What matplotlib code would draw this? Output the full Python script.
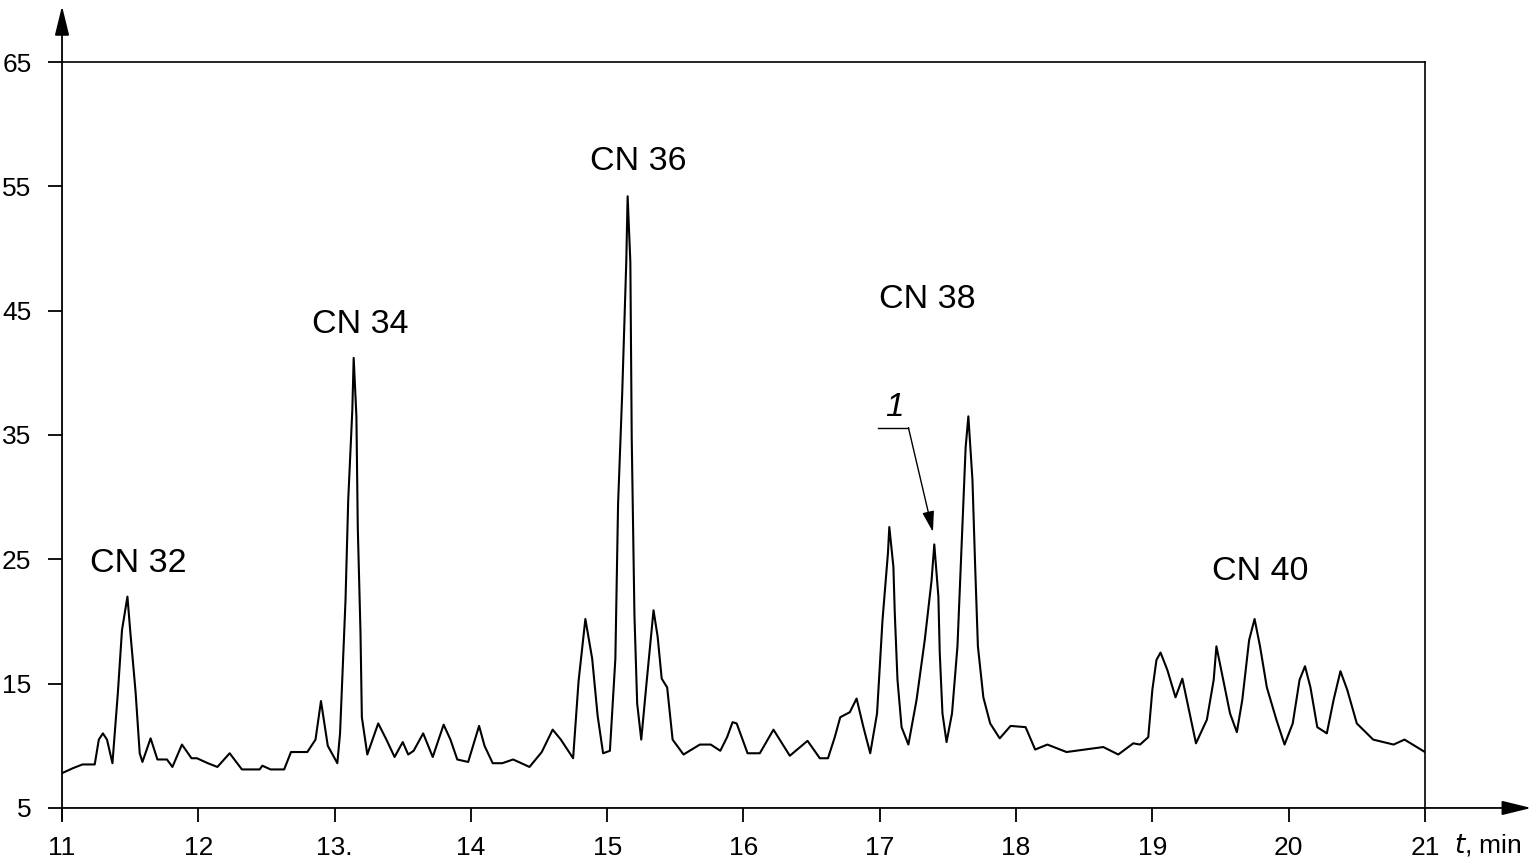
import matplotlib.pyplot as plt

# Chromatogram trace (time in min, detector signal)
time = [11.00, 11.08, 11.15, 11.24, 11.27, 11.30, 11.33, 11.37, 11.41, 11.44,
        11.48, 11.50, 11.54, 11.57, 11.59, 11.65, 11.70, 11.77, 11.81, 11.88,
        11.95, 11.99, 12.07, 12.14, 12.23, 12.32, 12.45, 12.47, 12.53, 12.63,
        12.68, 12.80, 12.86, 12.90, 12.95, 13.02, 13.04, 13.08, 13.10, 13.13,
        13.14, 13.16, 13.17, 13.19, 13.20, 13.24, 13.32, 13.38, 13.44, 13.50,
        13.54, 13.58, 13.65, 13.72, 13.80, 13.85, 13.90, 13.98, 14.06, 14.10,
        14.16, 14.23, 14.31, 14.43, 14.52, 14.60, 14.66, 14.75, 14.79, 14.84,
        14.89, 14.93, 14.97, 15.02, 15.06, 15.08, 15.11, 15.14, 15.15, 15.17,
        15.18, 15.20, 15.22, 15.25, 15.29, 15.34, 15.37, 15.40, 15.44, 15.48,
        15.56, 15.68, 15.76, 15.83, 15.88, 15.92, 15.95, 16.03, 16.12, 16.22,
        16.34, 16.47, 16.56, 16.62, 16.67, 16.71, 16.78, 16.83, 16.88, 16.93,
        16.98, 17.02, 17.06, 17.07, 17.10, 17.11, 17.13, 17.16, 17.21, 17.27,
        17.33, 17.38, 17.40, 17.43, 17.44, 17.46, 17.49, 17.53, 17.57, 17.60,
        17.63, 17.65, 17.68, 17.70, 17.72, 17.76, 17.81, 17.88, 17.96, 18.07,
        18.14, 18.23, 18.37, 18.64, 18.75, 18.86, 18.91, 18.97, 19.00, 19.03,
        19.06, 19.11, 19.17, 19.22, 19.28, 19.32, 19.40, 19.45, 19.47, 19.52,
        19.57, 19.62, 19.66, 19.71, 19.75, 19.79, 19.84, 19.91, 19.97, 20.03,
        20.08, 20.12, 20.16, 20.21, 20.28, 20.33, 20.38, 20.43, 20.50, 20.62,
        20.77, 20.85, 20.94, 21.00]
signal = [7.8, 8.2, 8.5, 8.5, 10.5, 11.0, 10.5, 8.6, 14.3, 19.3,
          22.0, 19.3, 14.3, 9.4, 8.7, 10.6, 8.9, 8.9, 8.3, 10.1,
          9.0, 9.0, 8.6, 8.3, 9.4, 8.1, 8.1, 8.4, 8.1, 8.1,
          9.5, 9.5, 10.5, 13.6, 10.0, 8.6, 11.0, 21.7, 29.8, 37.0,
          41.2, 36.5, 27.6, 19.1, 12.3, 9.3, 11.8, 10.5, 9.1, 10.3,
          9.3, 9.6, 11.0, 9.1, 11.7, 10.5, 8.9, 8.7, 11.6, 10.0,
          8.6, 8.6, 8.9, 8.3, 9.5, 11.3, 10.5, 9.0, 15.2, 20.2,
          17.0, 12.4, 9.4, 9.6, 17.0, 29.5, 38.3, 48.9, 54.2, 48.9,
          34.8, 20.5, 13.4, 10.5, 15.2, 20.9, 18.8, 15.4, 14.7, 10.5,
          9.3, 10.1, 10.1, 9.6, 10.7, 11.9, 11.8, 9.4, 9.4, 11.3,
          9.2, 10.4, 9.0, 9.0, 10.7, 12.3, 12.7, 13.8, 11.5, 9.4,
          12.6, 20.1, 25.5, 27.6, 24.4, 20.7, 15.3, 11.5, 10.1, 13.7,
          18.5, 23.3, 26.2, 22.0, 17.5, 12.6, 10.3, 12.6, 18.0, 26.0,
          34.0, 36.5, 31.4, 24.4, 18.0, 13.9, 11.8, 10.6, 11.6, 11.5,
          9.7, 10.1, 9.5, 9.9, 9.3, 10.2, 10.1, 10.7, 14.5, 16.9,
          17.5, 16.1, 13.9, 15.4, 12.3, 10.2, 12.1, 15.3, 18.0, 15.3,
          12.6, 11.1, 13.7, 18.5, 20.2, 18.0, 14.7, 12.1, 10.1, 11.8,
          15.3, 16.4, 14.7, 11.5, 11.0, 13.7, 16.0, 14.5, 11.8, 10.5,
          10.1, 10.5, 9.9, 9.5]

# Peak group labels
group_labels = ['CN 32', 'CN 34', 'CN 36', 'CN 38', 'CN 40']
group_x = [11.56, 13.19, 15.23, 17.35, 19.79]
group_y = [24.7, 43.9, 57.0, 45.9, 24.0]

x_ticks = [11, 12, 13, 14, 15, 16, 17, 18, 19, 20, 21]
x_tick_labels = ['11', '12', '13.', '14', '15', '16', '17', '18', '19', '20', '21']
y_ticks = [5, 15, 25, 35, 45, 55, 65]

plt.rcParams['font.family'] = ['Liberation Sans', 'DejaVu Sans']

fig = plt.figure(figsize=(15.35, 8.6), dpi=100)
ax = fig.add_axes([0.0404, 0.0605, 0.8879, 0.8674])

ax.plot(time, signal, color='black', linewidth=1.5)

ax.set_xlim(11, 21)
ax.set_ylim(5, 65)
ax.set_xticks(x_ticks)
ax.set_xticklabels(x_tick_labels)
ax.set_yticks(y_ticks)
ax.tick_params(axis='both', direction='out', width=1.3, labelsize=19, colors='black')
ax.tick_params(axis='y', length=10, pad=12)
ax.tick_params(axis='x', length=10, pad=10)

for side in ['top', 'right']:
    ax.spines[side].set_linewidth(1.2)
ax.spines['left'].set_visible(False)
ax.spines['bottom'].set_visible(False)

# Axes with arrow heads running past the frame
arrow = dict(arrowstyle='-|>,head_length=0.9,head_width=0.22', color='black',
             lw=1.3, mutation_scale=20, shrinkA=0, shrinkB=0)
ax.annotate('', xy=(0, 1.075), xytext=(0, -0.015), xycoords='axes fraction',
            arrowprops=arrow)
ax.annotate('', xy=(1.078, 0), xytext=(0, 0), xycoords='axes fraction',
            arrowprops=arrow)
ax.text(1.021, -0.05, r'$t$, min', transform=ax.transAxes, fontsize=19,
        ha='left', va='center')

for label, gx, gy in zip(group_labels, group_x, group_y):
    ax.text(gx, gy, label, fontsize=24.5, ha='center', va='center')

# Marker "1" pointing at the peak
ax.plot([16.99, 17.21], [35.6, 35.6], color='black', linewidth=1)
ax.annotate('', xy=(17.39, 27.2), xytext=(17.21, 35.6),
            arrowprops=dict(arrowstyle='-|>,head_length=0.7,head_width=0.2',
                            color='black', lw=1, mutation_scale=18,
                            shrinkA=0, shrinkB=0))
ax.text(17.11, 37.2, '1', fontsize=24, style='italic', ha='center', va='center')

fig.savefig('out.png', dpi=100)
